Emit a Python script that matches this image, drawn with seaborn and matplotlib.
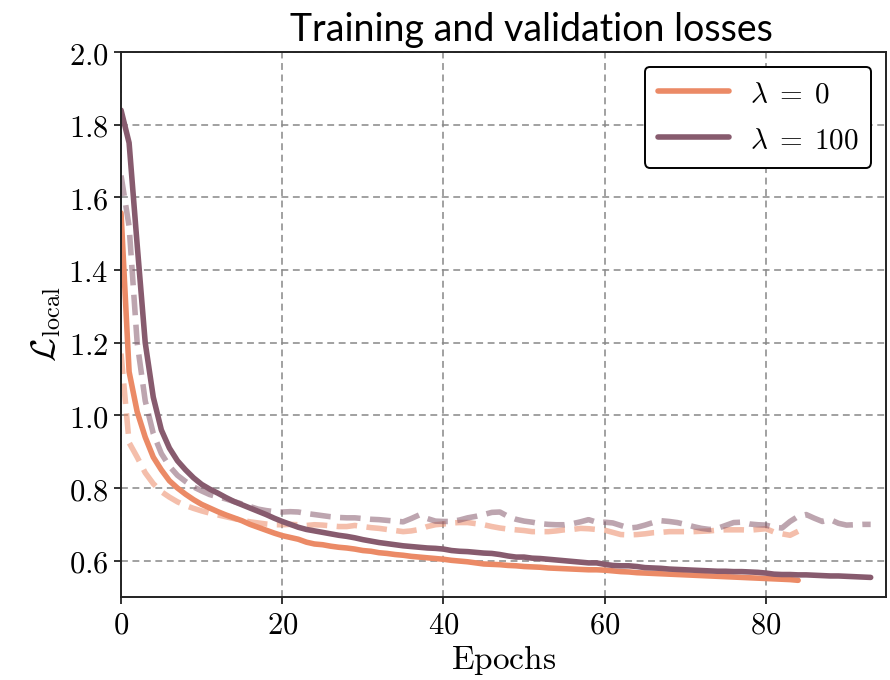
import numpy as np
import pandas as pd
import seaborn as sns
import matplotlib
matplotlib.use("Agg")
import matplotlib.pyplot as plt
from matplotlib.ticker import FixedLocator, FuncFormatter
from matplotlib.lines import Line2D

# ---- loss curves per epoch -------------------------------------------------
train_lambda0 = [
    1.557, 1.120, 1.010, 0.940, 0.885, 0.850, 0.820, 0.800, 0.783, 0.768,
    0.755, 0.745, 0.735, 0.726, 0.718, 0.710, 0.700, 0.692, 0.684, 0.676,
    0.669, 0.664, 0.659, 0.651, 0.646, 0.644, 0.640, 0.637, 0.635, 0.632,
    0.628, 0.626, 0.622, 0.620, 0.617, 0.615, 0.612, 0.610, 0.608, 0.606,
    0.604, 0.601, 0.599, 0.597, 0.594, 0.591, 0.590, 0.589, 0.587, 0.586,
    0.584, 0.583, 0.582, 0.580, 0.579, 0.578, 0.577, 0.576, 0.575, 0.575,
    0.574, 0.572, 0.570, 0.569, 0.567, 0.566, 0.565, 0.564, 0.563, 0.562,
    0.561, 0.560, 0.559, 0.558, 0.557, 0.556, 0.555, 0.554, 0.553, 0.552,
    0.551, 0.550, 0.549, 0.548, 0.546,
]
val_lambda0 = [
    1.170, 0.925, 0.885, 0.842, 0.812, 0.790, 0.775, 0.762, 0.752, 0.744,
    0.737, 0.731, 0.726, 0.721, 0.716, 0.711, 0.707, 0.704, 0.701, 0.699,
    0.699, 0.700, 0.699, 0.697, 0.699, 0.698, 0.696, 0.694, 0.694, 0.697,
    0.694, 0.691, 0.689, 0.686, 0.683, 0.680, 0.682, 0.686, 0.694, 0.699,
    0.701, 0.704, 0.705, 0.705, 0.702, 0.699, 0.694, 0.690, 0.687, 0.685,
    0.683, 0.680, 0.680, 0.680, 0.682, 0.685, 0.686, 0.689, 0.688, 0.686,
    0.684, 0.678, 0.672, 0.671, 0.672, 0.674, 0.677, 0.678, 0.680, 0.680,
    0.680, 0.680, 0.681, 0.682, 0.684, 0.685, 0.685, 0.685, 0.684, 0.686,
    0.688, 0.679, 0.674, 0.670, 0.681,
]
train_lambda100 = [
    1.840, 1.750, 1.470, 1.200, 1.050, 0.960, 0.910, 0.875, 0.850, 0.828,
    0.810, 0.797, 0.786, 0.774, 0.763, 0.754, 0.745, 0.736, 0.727, 0.717,
    0.708, 0.700, 0.692, 0.686, 0.682, 0.678, 0.674, 0.670, 0.667, 0.663,
    0.658, 0.654, 0.650, 0.647, 0.644, 0.641, 0.639, 0.637, 0.635, 0.634,
    0.632, 0.628, 0.626, 0.625, 0.623, 0.621, 0.620, 0.617, 0.613, 0.610,
    0.610, 0.607, 0.606, 0.604, 0.602, 0.600, 0.598, 0.596, 0.594, 0.594,
    0.590, 0.587, 0.586, 0.586, 0.584, 0.581, 0.580, 0.579, 0.577, 0.576,
    0.575, 0.574, 0.573, 0.572, 0.571, 0.571, 0.570, 0.570, 0.569, 0.568,
    0.566, 0.563, 0.562, 0.562, 0.561, 0.561, 0.560, 0.559, 0.558, 0.558,
    0.557, 0.556, 0.555, 0.554,
]
val_lambda100 = [
    1.660, 1.520, 1.200, 1.040, 0.950, 0.895, 0.860, 0.835, 0.818, 0.803,
    0.792, 0.782, 0.776, 0.770, 0.763, 0.756, 0.749, 0.742, 0.738, 0.735,
    0.734, 0.735, 0.734, 0.730, 0.727, 0.724, 0.721, 0.719, 0.718, 0.718,
    0.716, 0.714, 0.713, 0.711, 0.709, 0.707, 0.716, 0.726, 0.716, 0.709,
    0.708, 0.708, 0.712, 0.718, 0.722, 0.727, 0.733, 0.734, 0.722, 0.714,
    0.709, 0.706, 0.702, 0.700, 0.699, 0.699, 0.702, 0.707, 0.713, 0.706,
    0.706, 0.704, 0.697, 0.690, 0.692, 0.698, 0.705, 0.710, 0.708, 0.705,
    0.700, 0.694, 0.689, 0.686, 0.689, 0.697, 0.705, 0.706, 0.701, 0.699,
    0.698, 0.692, 0.690, 0.708, 0.722, 0.727, 0.717, 0.708, 0.713, 0.703,
    0.698, 0.699, 0.700, 0.700,
]

run_labels = [r"$\lambda\;=\;0$", r"$\lambda\;=\;100$"]
run_colors = ["#EB8A66", "#875B6E"]
x_ticks = [0, 20, 40, 60, 80]
y_ticks = [0.6, 0.8, 1.0, 1.2, 1.4, 1.6, 1.8, 2.0]

# ---- style -----------------------------------------------------------------
sns.set_theme(style="ticks")
plt.rcParams["font.family"] = ["DejaVu Serif"]
plt.rcParams["mathtext.fontset"] = "cm"
plt.rcParams["text.color"] = "black"

fig = plt.figure(figsize=(8.9, 6.8), dpi=100)
ax = fig.add_axes([0.136, 0.122, 0.8595, 0.8015])

LW = 4.0
runs = [
    (train_lambda0, val_lambda0, run_colors[0]),
    (train_lambda100, val_lambda100, run_colors[1]),
]
for train, val, color in runs:
    df = pd.DataFrame({"epoch": np.arange(len(val)), "val": val})
    sns.lineplot(data=df, x="epoch", y="val", ax=ax, color=color,
                 linewidth=LW, linestyle=(0, (3.7, 1.7)), alpha=0.55)
for train, val, color in runs:
    df = pd.DataFrame({"epoch": np.arange(len(train)), "train": train})
    sns.lineplot(data=df, x="epoch", y="train", ax=ax, color=color,
                 linewidth=LW)

ax.set_xlim(0, 94.9)
ax.set_ylim(0.5, 2.0)
ax.xaxis.set_major_locator(FixedLocator(x_ticks))
ax.yaxis.set_major_locator(FixedLocator(y_ticks))
ax.xaxis.set_major_formatter(FuncFormatter(lambda v, _: rf"${v:.0f}$"))
ax.yaxis.set_major_formatter(FuncFormatter(lambda v, _: rf"${v:.1f}$"))
ax.tick_params(axis="both", labelsize=22, length=5, width=1.3,
               color="#222222", labelcolor="black", direction="out", pad=4)

ax.grid(True, linestyle=(0, (4.5, 3)), color="#888888", linewidth=1.1)
ax.set_axisbelow(True)
for side in ["left", "right", "top", "bottom"]:
    ax.spines[side].set_color("#222222")
    ax.spines[side].set_linewidth(1.4)

ax.set_xlabel(r"$\mathrm{Epochs}$", fontsize=24, labelpad=2, color="black")
ax.set_ylabel(r"$\mathcal{L}_{\mathrm{local}}$", fontsize=25, labelpad=4,
              color="black")
ax.set_title("Training and validation losses", fontsize=27, color="black",
             family=["Lato", "DejaVu Sans"], pad=8, x=0.536)

handles = [Line2D([0], [0], color=c, linewidth=LW) for c in run_colors]
leg = ax.legend(handles, run_labels, loc="upper right", fontsize=21,
                frameon=True, fancybox=True, framealpha=1,
                edgecolor="black", handlelength=2.45, handletextpad=0.7,
                handleheight=0.95, borderpad=0.45, labelspacing=0.6,
                borderaxespad=0.5)
leg.get_frame().set_linewidth(1.4)
for t in leg.get_texts():
    t.set_color("black")

fig.savefig("out.png", dpi=100)
